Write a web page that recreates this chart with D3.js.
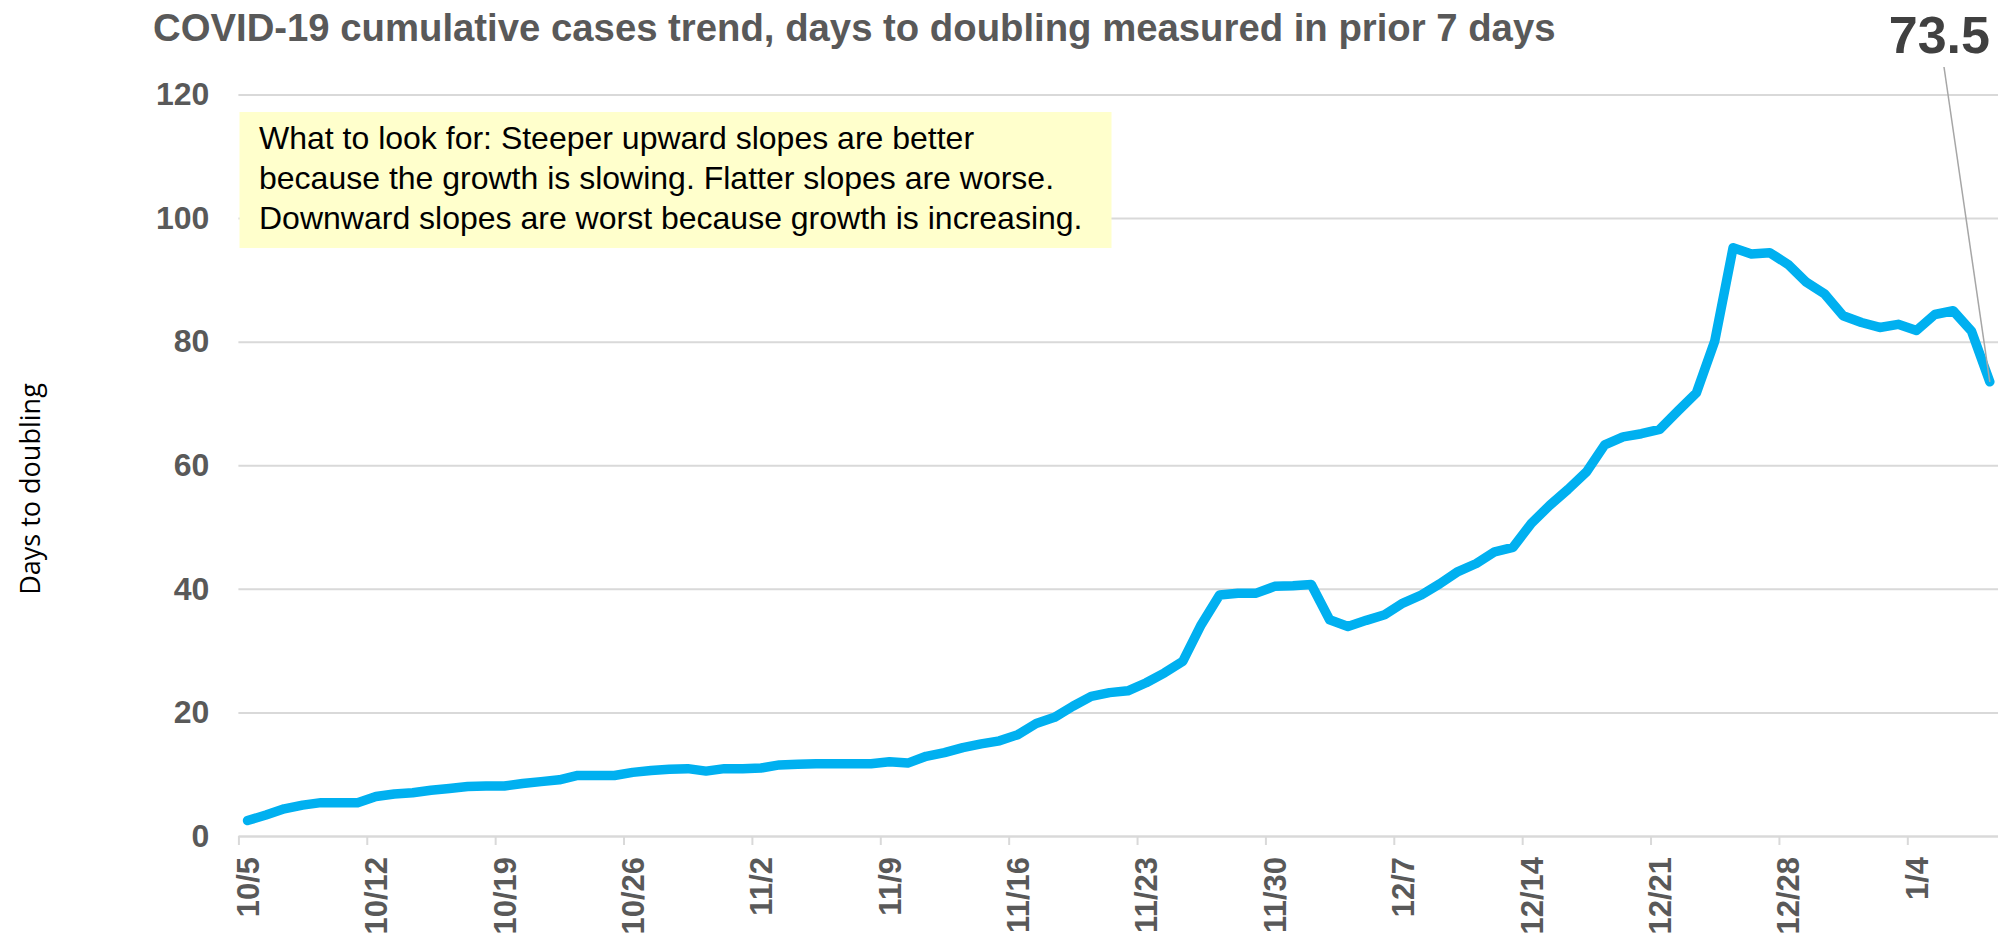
<!DOCTYPE html>
<html>
<head>
<meta charset="utf-8">
<script src="https://cdn.jsdelivr.net/npm/d3@7"></script>
<style>
  body { margin: 0; background: #fff; }
  svg { display: block; }
</style>
</head>
<body>
<svg id="chart" width="1998" height="938"></svg>
<script>
/* global d3 */

var chartTitle = "COVID-19 cumulative cases trend, days to doubling measured in prior 7 days";
var yTitle = "Days to doubling";
var noteLines = [
    "What to look for: Steeper upward slopes are better",
    "because the growth is slowing. Flatter slopes are worse.",
    "Downward slopes are worst because growth is increasing."
];

// one value per day, starting 10/5/2020
var firstDay = "2020-10-05";
var doublingDays = [
    2.5, 3.4, 4.4, 5.0, 5.4, 5.4, 5.4, 6.4, 6.8, 7.0,
    7.4, 7.7, 8.0, 8.1, 8.1, 8.5, 8.8, 9.1, 9.8, 9.8,
    9.8, 10.3, 10.6, 10.8, 10.9, 10.5, 10.9, 10.9, 11.0, 11.5,
    11.6, 11.7, 11.7, 11.7, 11.7, 12.0, 11.8, 12.9, 13.5, 14.3,
    14.9, 15.4, 16.4, 18.2, 19.2, 21.0, 22.6, 23.2, 23.5, 24.8,
    26.4, 28.3, 34.2, 39.0, 39.3, 39.3, 40.4, 40.5, 40.7, 35.0,
    33.9, 34.9, 35.8, 37.7, 39.0, 40.8, 42.8, 44.1, 46.0, 46.7,
    50.6, 53.5, 56.1, 58.9, 63.3, 64.6, 65.1, 65.8, 68.8, 71.7,
    80.1, 95.2, 94.2, 94.4, 92.5, 89.6, 87.7, 84.2, 83.1, 82.3,
    82.8, 81.8, 84.4, 85.0, 81.7, 73.5
];
var weekTicks = [
    "2020-10-05", "2020-10-12", "2020-10-19", "2020-10-26", "2020-11-02",
    "2020-11-09", "2020-11-16", "2020-11-23", "2020-11-30", "2020-12-07",
    "2020-12-14", "2020-12-21", "2020-12-28", "2021-01-04"
];
var yTicks = [0, 20, 40, 60, 80, 100, 120];
var lastLabel = "73.5";

var parseDay = d3.timeParse("%Y-%m-%d");
var start = parseDay(firstDay);
var points = doublingDays.map(function (v, i) {
    return { day: d3.timeDay.offset(start, i), value: v };
});

var plotLeft = 238.4, plotRight = 1999, plotTop = 94.5, plotBottom = 836;
var grey = "#595959";
var sans = "Liberation Sans, Arial, sans-serif";

var x = d3.scaleTime()
    .domain([start, d3.timeDay.offset(start, doublingDays.length)])
    .range([plotLeft, plotRight]);
var y = d3.scaleLinear().domain([0, 120]).range([plotBottom, plotTop]);

// points sit in the middle of their day
var mid = function (d) { return x(d3.timeHour.offset(d, 12)); };

var svg = d3.select("#chart");

svg.append("text")
    .attr("x", 153).attr("y", 41)
    .attr("font-family", sans)
    .attr("font-weight", "bold")
    .attr("font-size", 38.3)
    .attr("fill", grey)
    .text(chartTitle);

// y axis + gridlines
var yAxis = svg.append("g")
    .attr("transform", "translate(" + plotLeft + ",0)")
    .call(d3.axisLeft(y).tickValues(yTicks).tickSize(-(plotRight - plotLeft)).tickPadding(29));
yAxis.select(".domain").remove();
yAxis.selectAll("line").attr("stroke", "#d9d9d9").attr("stroke-width", 2);
yAxis.selectAll("text")
    .attr("font-family", sans)
    .attr("font-weight", "bold")
    .attr("font-size", 32)
    .attr("fill", grey);

// x axis
var xAxis = svg.append("g")
    .attr("transform", "translate(0," + plotBottom + ")")
    .call(d3.axisBottom(x)
        .tickValues(weekTicks.map(parseDay))
        .tickSize(9).tickSizeOuter(0)
        .tickFormat(d3.timeFormat("%-m/%-d")));
xAxis.select(".domain").attr("stroke", "#d9d9d9").attr("stroke-width", 2);
xAxis.selectAll("line").attr("stroke", "#d9d9d9").attr("stroke-width", 2);
xAxis.selectAll("text")
    .attr("font-family", sans)
    .attr("font-weight", "bold")
    .attr("font-size", 31)
    .attr("fill", grey)
    .attr("text-anchor", "end")
    .attr("transform", "translate(9,21) rotate(-90)")
    .attr("x", 0).attr("y", 0).attr("dy", "0.35em");

svg.append("text")
    .attr("transform", "translate(40,489) rotate(-90)")
    .attr("text-anchor", "middle")
    .attr("font-family", "Open Sans, sans-serif")
    .attr("font-size", 27)
    .attr("fill", "#000")
    .text(yTitle);

// note box
svg.append("rect")
    .attr("x", 239.5).attr("y", 112)
    .attr("width", 872).attr("height", 136)
    .attr("fill", "#ffffcc");
svg.append("g").selectAll("text")
    .data(noteLines)
    .join("text")
    .attr("x", 259)
    .attr("y", function (d, i) { return 149 + i * 40; })
    .attr("font-family", sans)
    .attr("font-size", 32)
    .attr("fill", "#000")
    .text(function (d) { return d; });

// the series
svg.append("path")
    .datum(points)
    .attr("fill", "none")
    .attr("stroke", "#00b0f0")
    .attr("stroke-width", 9.5)
    .attr("stroke-linejoin", "round")
    .attr("stroke-linecap", "round")
    .attr("d", d3.line()
        .x(function (d) { return mid(d.day); })
        .y(function (d) { return y(d.value); }));

// callout for last value
var last = points[points.length - 1];
svg.append("line")
    .attr("x1", 1944).attr("y1", 67)
    .attr("x2", mid(last.day)).attr("y2", y(last.value))
    .attr("stroke", "#a6a6a6")
    .attr("stroke-width", 1.5);
svg.append("text")
    .attr("x", 1990).attr("y", 53)
    .attr("text-anchor", "end")
    .attr("font-family", sans)
    .attr("font-weight", "bold")
    .attr("font-size", 52)
    .attr("fill", "#404040")
    .text(lastLabel);
</script>
</body>
</html>
